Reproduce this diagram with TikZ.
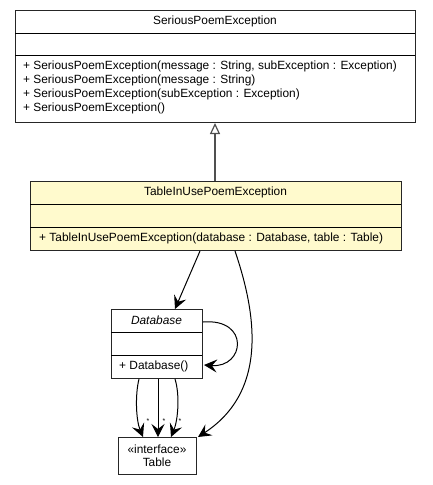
\documentclass[tikz,border=0pt]{standalone}
\usepackage{fontspec}
\setmainfont{Liberation Sans}
\usetikzlibrary{arrows.meta,calc}
\definecolor{umlyellow}{RGB}{255,250,205}
\definecolor{umlgray}{RGB}{80,80,80}
\tikzset{
  cls/.style={draw=black!85, line width=1pt, rectangle, inner sep=0pt, anchor=north west},
  txt/.style={font=\fontsize{11.9}{13}\selectfont, inner sep=0pt},
  dep/.style={draw=black, line width=1pt, -{Stealth[length=13pt,width=13pt,inset=5pt]}},
  gen/.style={draw=umlgray, line width=1.2pt, -{Triangle[open,length=11pt,width=10pt,fill=white]}},
  star/.style={font=\fontsize{7}{7}\selectfont, inner sep=0pt}
}
\begin{document}
\begin{tikzpicture}[x=1pt,y=-1pt]
\useasboundingbox (0,0) rectangle (432,485);
% SeriousPoemException
\node[cls, minimum width=400pt, minimum height=112pt] (spe) at (15,10) {};
\draw[line width=1pt] (15,33) -- (415,33);
\draw[line width=1pt] (15,55) -- (415,55);
\node[txt] (speT) at (215,21.5) {SeriousPoemException};
\node[txt, anchor=west] (spe1) at (23,66) {+ SeriousPoemException(message : String, subException : Exception)};
\node[txt, anchor=west] (spe2) at (23,80) {+ SeriousPoemException(message : String)};
\node[txt, anchor=west] (spe3) at (23,94) {+ SeriousPoemException(subException : Exception)};
\node[txt, anchor=west] (spe4) at (23,108) {+ SeriousPoemException()};
% TableInUsePoemException
\node[cls, fill=umlyellow, minimum width=371pt, minimum height=69pt] (tiu) at (30,181) {};
\draw[line width=1pt] (30,204) -- (401,204);
\draw[line width=1pt] (30,227) -- (401,227);
\node[txt] (tiuT) at (215.5,192.5) {TableInUsePoemException};
\node[txt, anchor=west] (tiu1) at (39,238.5) {+ TableInUsePoemException(database : Database, table : Table)};
% Database
\node[cls, fill=white, minimum width=91pt, minimum height=69pt] (db) at (111,309) {};
\draw[line width=1pt] (111,332) -- (202,332);
\draw[line width=1pt] (111,355) -- (202,355);
\node[txt] (dbT) at (156.5,320.5) {\itshape Database};
\node[txt, anchor=west] (db1) at (119,366.5) {+ Database()};
% Table
\node[cls, fill=white, minimum width=78pt, minimum height=37pt] (tab) at (118,437) {};
\node[txt, align=center] (tabT) at (157,455.5) {«interface»\\[0pt]Table};
% generalization
\draw[gen] ($(tiu.north west)+(185,0)$) -- ($(spe.south west)+(200,0)$);
% dependencies
\draw[dep] ($(tiu.south west)+(170,0)$) -- ($(db.north west)+(64,0)$);
\draw[dep] ($(tiu.south west)+(205,0)$) .. controls (255,310) and (270,390) .. ($(tab.north east)+(1,0)$);
\draw[dep] ($(db.north east)+(0,13)$) .. controls (250,318) and (245,368) .. ($(db.north east)+(1,56)$);
\draw[dep] ($(db.south west)+(28,0)$) .. controls (135,395) and (136,420) .. ($(tab.north west)+(25,0)$);
\draw[dep] ($(db.south west)+(47,0)$) -- ($(tab.north west)+(40,0)$);
\draw[dep] ($(db.south west)+(64,0)$) .. controls (180,395) and (178,420) .. ($(tab.north west)+(53,0)$);
\node[star] (s1) at (148,421) {*};
\node[star] (s2) at (164,421) {*};
\node[star] (s3) at (180,421) {*};
\end{tikzpicture}
\end{document}
